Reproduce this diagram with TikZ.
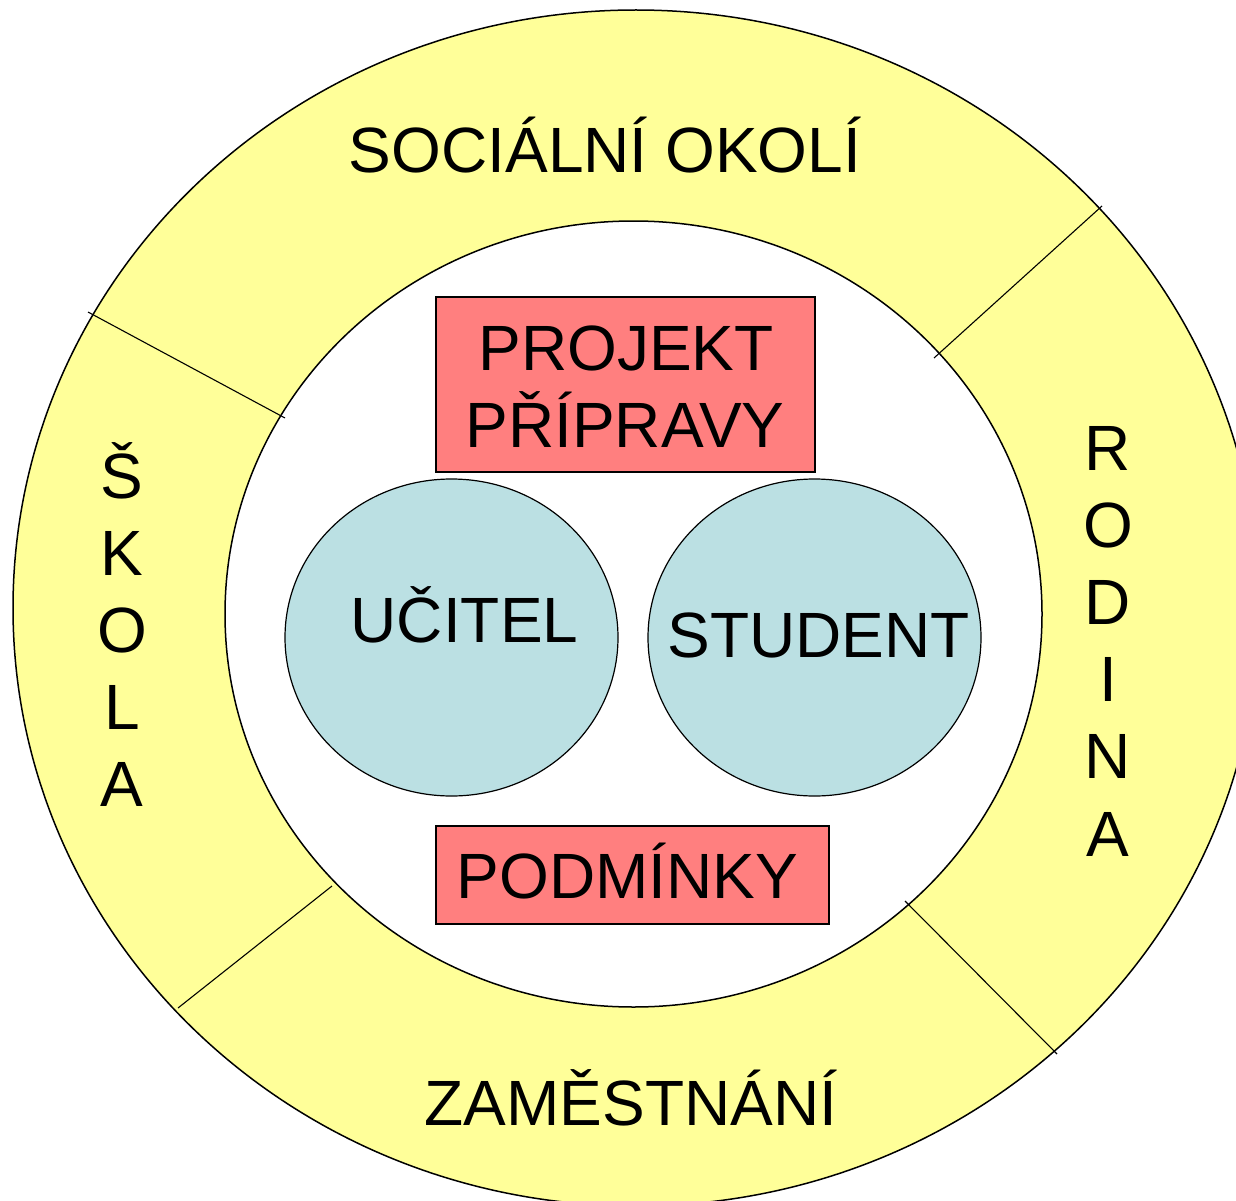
\documentclass[tikz,border=0pt]{standalone}
\usepackage{fontspec}
\setmainfont{Liberation Sans}
\usetikzlibrary{shapes.geometric}
\definecolor{ringyellow}{HTML}{FFFF99}
\definecolor{boxpink}{HTML}{FF7F7F}
\definecolor{ovalblue}{HTML}{BBE0E3}
\begin{document}
\begin{tikzpicture}[x=1pt,y=-1pt,
  bigtext/.style={font=\fontsize{64}{77}\selectfont, inner sep=0pt, anchor=base},
  pinkbox/.style={draw=black, line width=1.2pt, fill=boxpink, rectangle, inner sep=0pt},
  oval/.style={draw=black, line width=1.2pt, fill=ovalblue, ellipse, inner sep=0pt},
  divider/.style={draw=black, line width=1.1pt},
  ringline/.style={draw=black, line width=1.5pt}]
\useasboundingbox (0,0) rectangle (1236,1201);
\begin{scope}
\clip (0,0) rectangle (1236,1201);
\draw[ringline, fill=ringyellow] (636,608) ellipse [x radius=623pt, y radius=598pt];
\end{scope}
\draw[ringline, fill=white] (633.5,614) ellipse [x radius=408.5pt, y radius=393pt];
% dividers
\coordinate (ulo) at (88,312);   \coordinate (uli) at (285,418);
\coordinate (uro) at (1102,206); \coordinate (uri) at (934,358);
\coordinate (llo) at (178,1008); \coordinate (lli) at (332,886);
\coordinate (lro) at (1057,1054); \coordinate (lri) at (905,901);
\draw[divider] (ulo) -- (uli);
\draw[divider] (uro) -- (uri);
\draw[divider] (llo) -- (lli);
\draw[divider] (lro) -- (lri);
% boxes and ovals
\node[pinkbox, minimum width=379pt, minimum height=175pt] (proj) at (625.5,384.5) {};
\node[pinkbox, minimum width=393pt, minimum height=98pt] (podm) at (632.5,875) {};
\node[oval, minimum width=333pt, minimum height=317pt] (ucitel) at (451.5,637.5) {};
\node[oval, minimum width=333pt, minimum height=317pt] (student) at (814.5,637.5) {};
% texts
\node[bigtext] (tproj) at (626,370) {PROJEKT};
\node[bigtext] (tprip) at (625,447) {PŘÍPRAVY};
\node[bigtext] (tpodm) at (627.5,898) {PODMÍNKY};
\node[bigtext] (tucit) at (464.5,642) {UČITEL};
\node[bigtext] (tstud) at (818.5,657) {STUDENT};
\node[bigtext] (tsoc) at (605,173) {SOCIÁLNÍ OKOLÍ};
\node[bigtext] (tzam) at (631,1125) {ZAMĚSTNÁNÍ};
\foreach \l [count=\i] in {Š,K,O,L,A}
  \node[bigtext] (skola\i) at (122,{498+77*(\i-1)}) {\l};
\foreach \l [count=\i] in {R,O,D,I,N,A}
  \node[bigtext] (rodina\i) at (1108,{470+77.2*(\i-1)}) {\l};
\end{tikzpicture}
\end{document}
